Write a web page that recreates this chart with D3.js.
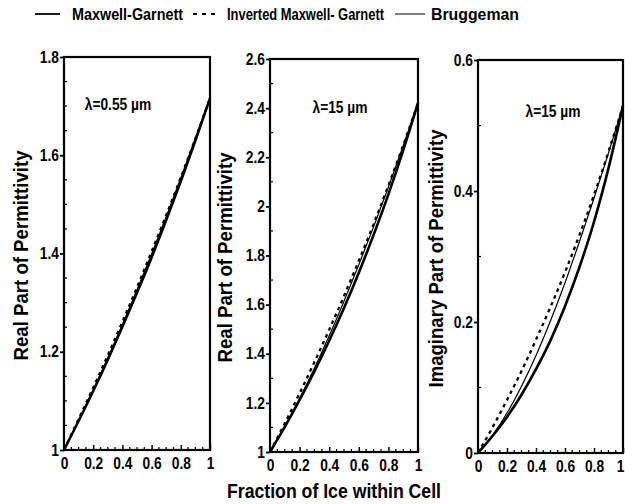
<!DOCTYPE html>
<html>
<head>
<meta charset="utf-8">
<script src="https://cdn.jsdelivr.net/npm/d3@7"></script>
<style>
  html, body { margin: 0; padding: 0; background: #fff; }
  svg { display: block; }
  text { font-family: "Liberation Sans", Arial, Helvetica, sans-serif; font-weight: bold; fill: #000; }
</style>
</head>
<body>
<svg id="chart" width="625" height="504"></svg>
<script>
// Ice volume fraction in the cell
const fraction = [0, 0.1, 0.2, 0.3, 0.4, 0.5, 0.6, 0.7, 0.8, 0.9, 1];

// Real part of permittivity, lambda = 0.55 um
const realVisMG  = [1, 1.059, 1.120, 1.184, 1.251, 1.320, 1.392, 1.468, 1.547, 1.630, 1.716];
const realVisIMG = [1, 1.063, 1.127, 1.193, 1.261, 1.331, 1.404, 1.478, 1.555, 1.634, 1.716];
const realVisBR  = [1, 1.059, 1.122, 1.187, 1.255, 1.326, 1.399, 1.475, 1.554, 1.634, 1.716];

// Real part of permittivity, lambda = 15 um
const realIrMG  = [1, 1.102, 1.212, 1.328, 1.453, 1.586, 1.730, 1.884, 2.049, 2.228, 2.42];
const realIrIMG = [1, 1.117, 1.239, 1.366, 1.498, 1.635, 1.779, 1.928, 2.085, 2.249, 2.42];
const realIrBR  = [1, 1.104, 1.218, 1.341, 1.473, 1.614, 1.762, 1.917, 2.079, 2.247, 2.42];

// Imaginary part of permittivity, lambda = 15 um
const imagIrMG  = [0, 0.026, 0.055, 0.089, 0.128, 0.172, 0.224, 0.284, 0.353, 0.435, 0.53];
const imagIrIMG = [0, 0.039, 0.081, 0.125, 0.173, 0.223, 0.276, 0.333, 0.394, 0.460, 0.53];
const imagIrBR  = [0, 0.027, 0.061, 0.102, 0.149, 0.202, 0.260, 0.323, 0.389, 0.458, 0.53];

// Tick values and labels
const xTicks = [0, 0.2, 0.4, 0.6, 0.8, 1];
const xTickLabels = ["0", "0.2", "0.4", "0.6", "0.8", "1"];
const yTicksVis = [1, 1.2, 1.4, 1.6, 1.8];
const yTickLabelsVis = ["1", "1.2", "1.4", "1.6", "1.8"];
const yTicksIr = [1, 1.2, 1.4, 1.6, 1.8, 2, 2.2, 2.4, 2.6];
const yTickLabelsIr = ["1", "1.2", "1.4", "1.6", "1.8", "2", "2.2", "2.4", "2.6"];
const yTicksImag = [0, 0.2, 0.4, 0.6];
const yTickLabelsImag = ["0", "0.2", "0.4", "0.6"];

const seriesNames = ["Maxwell-Garnett", "Inverted Maxwell- Garnett", "Bruggeman"];
const panelTitles = ["λ=0.55 µm", "λ=15 µm", "λ=15 µm"];
const yTitles = ["Real Part of Permittivity", "Real Part of Permittivity", "Imaginary Part of Permittivity"];
const xTitle = "Fraction of Ice within Cell";

const svg = d3.select("#chart");

const styles = [
  { width: 2.6, dash: null },
  { width: 2.3, dash: "3.5,4" },
  { width: 1.2, dash: null }
];

// narrow the bold face a little so the lettering looks condensed
function condense(sel, factor) {
  sel.each(function () {
    const w = this.getComputedTextLength();
    d3.select(this).attr("textLength", w * factor).attr("lengthAdjust", "spacingAndGlyphs");
  });
}

const panels = [
  { left: 64,  right: 210, top: 57, bottom: 450, domain: [1, 1.8], ticks: yTicksVis, labels: yTickLabelsVis, minor: 0.05,
    series: [realVisMG, realVisIMG, realVisBR], title: panelTitles[0], titleX: 118, titleY: 110,
    yTitle: yTitles[0], yTitleX: 28, yTitleLen: 210 },
  { left: 270, right: 418, top: 59, bottom: 452, domain: [1, 2.6], ticks: yTicksIr, labels: yTickLabelsIr, minor: 0.1,
    series: [realIrMG, realIrIMG, realIrBR], title: panelTitles[1], titleX: 340, titleY: 113,
    yTitle: yTitles[1], yTitleX: 232, yTitleLen: 210 },
  { left: 478, right: 623, top: 60, bottom: 453, domain: [0, 0.6], ticks: yTicksImag, labels: yTickLabelsImag, minor: 0.1,
    series: [imagIrMG, imagIrIMG, imagIrBR], title: panelTitles[2], titleX: 553, titleY: 117,
    yTitle: yTitles[2], yTitleX: 443, yTitleLen: 258 }
];

panels.forEach((p, pi) => {
  const x = d3.scaleLinear().domain([0, 1]).range([p.left, p.right]);
  const y = d3.scaleLinear().domain(p.domain).range([p.bottom, p.top]);
  const g = svg.append("g");

  // minor ticks, inward
  const xMinor = d3.range(0, 1.0001, 0.05).filter(v => !xTicks.some(t => Math.abs(t - v) < 1e-9));
  g.selectAll(".xminor").data(xMinor).join("line")
    .attr("x1", d => x(d)).attr("x2", d => x(d))
    .attr("y1", p.bottom).attr("y2", p.bottom - 3)
    .attr("stroke", "#000").attr("stroke-width", 1.2);
  const yMinor = d3.range(p.domain[0], p.domain[1] + 1e-9, p.minor)
    .filter(v => !p.ticks.some(t => Math.abs(t - v) < 1e-9));
  g.selectAll(".yminor").data(yMinor).join("line")
    .attr("x1", p.left).attr("x2", p.left + 3)
    .attr("y1", d => y(d)).attr("y2", d => y(d))
    .attr("stroke", "#000").attr("stroke-width", 1.2);

  // x axis
  const xAxis = d3.axisBottom(x).tickValues(xTicks)
    .tickFormat((d, i) => xTickLabels[i]).tickSizeInner(-5).tickSizeOuter(0).tickPadding(8);
  const gx = g.append("g").attr("transform", `translate(0,${p.bottom})`).call(xAxis);
  gx.select(".domain").remove();
  gx.selectAll(".tick line").attr("stroke-width", 1.5);
  const xt = gx.selectAll("text").attr("font-size", 16)
    .style("font-family", '"Liberation Sans", Arial, sans-serif')
    .style("font-weight", "bold").attr("fill", "#000");
  condense(xt, 0.86);
  if (pi === 2) {
    // keep the last label inside the page
    gx.selectAll("text").filter((d, i) => i === xTicks.length - 1)
      .attr("text-anchor", "end").attr("dx", 1);
  }

  // y axis
  const yAxis = d3.axisLeft(y).tickValues(p.ticks)
    .tickFormat((d, i) => p.labels[i]).tickSizeInner(4).tickSizeOuter(0).tickPadding(1);
  const gy = g.append("g").attr("transform", `translate(${p.left},0)`).call(yAxis);
  gy.select(".domain").remove();
  gy.selectAll(".tick line").attr("stroke-width", 1.8);
  const yt = gy.selectAll("text").attr("font-size", 16)
    .style("font-family", '"Liberation Sans", Arial, sans-serif')
    .style("font-weight", "bold").attr("fill", "#000");
  condense(yt, 0.86);

  // curves
  const line = d3.line().x((d, i) => x(fraction[i])).y(d => y(d)).curve(d3.curveMonotoneX);
  [2, 1, 0].forEach(k => {
    g.append("path").datum(p.series[k])
      .attr("d", line)
      .attr("fill", "none").attr("stroke", "#000")
      .attr("stroke-width", styles[k].width)
      .attr("stroke-dasharray", styles[k].dash);
  });

  // frame
  g.append("rect")
    .attr("x", p.left).attr("y", p.top)
    .attr("width", p.right - p.left).attr("height", p.bottom - p.top)
    .attr("fill", "none").attr("stroke", "#000").attr("stroke-width", 2.2);

  // panel title
  const tt = g.append("text").attr("x", p.titleX).attr("y", p.titleY)
    .attr("text-anchor", "middle").attr("font-size", 16).text(p.title);
  condense(tt, 0.86);

  // y title
  const cy = (p.top + p.bottom) / 2;
  g.append("text")
    .attr("transform", `translate(${p.yTitleX},${cy + 2}) rotate(-90)`)
    .attr("text-anchor", "middle").attr("font-size", 20)
    .attr("textLength", p.yTitleLen).attr("lengthAdjust", "spacingAndGlyphs")
    .text(p.yTitle);
});

// x title
svg.append("text").attr("x", 334).attr("y", 498)
  .attr("text-anchor", "middle").attr("font-size", 20)
  .attr("textLength", 214).attr("lengthAdjust", "spacingAndGlyphs")
  .text(xTitle);

// legend
const legend = [
  { x1: 35, x2: 60, tx: 72, tl: 111 },
  { x1: 193, x2: 216, tx: 227, tl: 157 },
  { x1: 395, x2: 425, tx: 431, tl: 88 }
];
legend.forEach((l, k) => {
  svg.append("line")
    .attr("x1", l.x1).attr("x2", l.x2).attr("y1", 14).attr("y2", 14)
    .attr("stroke", "#000")
    .attr("stroke-width", k === 2 ? 1 : 1.8)
    .attr("stroke-dasharray", k === 1 ? "4,5" : null);
  svg.append("text").attr("x", l.tx).attr("y", 20)
    .attr("font-size", 16)
    .attr("textLength", l.tl).attr("lengthAdjust", "spacingAndGlyphs")
    .text(seriesNames[k]);
});
</script>
</body>
</html>
